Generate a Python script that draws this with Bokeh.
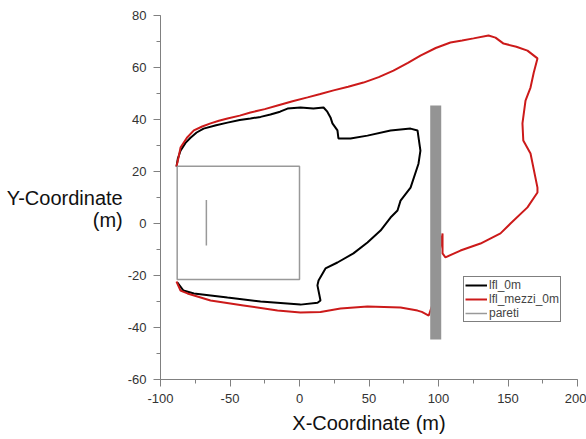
from bokeh.plotting import figure
from bokeh.models import Range1d, SingleIntervalTicker, Legend, LegendItem
from bokeh.embed import file_html
from bokeh.resources import INLINE

# ---- data ----
lfl_0m_x = [-88.5, -87.5, -85.6, -82, -78.4, -74, -69, -60, -51.8, -43, -35.3, -28, -20.9, -14, -8.6,
            0.7, 10, 17.3, 20, 22.3, 23.7, 27.3, 28, 36.7, 48.9, 65.5, 79.9, 84.9, 87, 85.6, 79.9,
            72.7, 70.5, 65.5, 58.3, 48.9, 38.8, 27.3, 18.7, 13.7, 12.9, 15.1, 13, 0.7, -28, -51.8,
            -76, -83.5, -87.8]
lfl_0m_y = [21.9, 25, 28, 31, 33, 35, 36.5, 37.8, 38.8, 39.8, 40.4, 41, 41.9, 43, 44.2,
            44.6, 44.2, 44.6, 43, 40.8, 38.5, 35.8, 32.7, 32.7, 33.8, 35.8, 36.5, 35.8, 28, 23, 13.8,
            8.8, 5, 2.3, -2.7, -7.3, -11.5, -15, -17.3, -21.9, -23.8, -29.6, -30.5, -31.2, -30, -28.5,
            -26.9, -25.8, -22.7]

lfl_mezzi_0m_x = [-88.5, -87, -85.6, -81, -76, -70, -64, -58, -51.8, -43, -35.3, -25, -15.8, -5, 5.8,
                  15, 24.5, 35, 46, 57, 67.6, 78, 87, 98, 108.6, 117, 125.2, 136, 141, 146.8, 156,
                  164, 171.2, 168.5, 166.2, 162.6, 160.4, 161, 166.2, 171.2, 171.2, 164, 151.8, 144.6,
                  130.2, 115.8, 105, 102.9, 102.9, 98, 95.5, 94.5, 93, 88, 84.9, 72.7, 48.9, 29.5,
                  15.1, 0.7, -15.8, -40.3, -64, -80.6, -85.6, -88.5]
lfl_mezzi_0m_y = [21.9, 25.5, 29.2, 33, 35.8, 37.3, 38.5, 39.5, 40.4, 41.5, 42.7, 44, 45.4, 47, 48.5,
                  49.8, 51.2, 52.6, 54.2, 56.3, 58.8, 61.8, 64.6, 67.5, 69.6, 70.4, 71.2, 72.3, 71.5,
                  69.2, 68, 66.5, 63.5, 58, 52.3, 47.3, 38.5, 31.9, 26.9, 13.8, 11.9, 6.2, 0, -3.8,
                  -7.7, -10.4, -13, -11.5, -3.8, -20, -31.5, -33, -35.4, -34, -33.5, -32.3, -31.9,
                  -32.7, -34, -34.2, -33.5, -31.5, -29.6, -26.9, -25.8, -22.3]

# walls (pareti)
pareti_xs = [[-88, 0, 0, -88, -88], [-67, -67]]
pareti_ys = [[22, 22, -21.5, -21.5, 22], [9, -8.5]]
muro_x = [98, 98]
muro_y = [-44.6, 45.4]

x_ticks = [-100, -50, 0, 50, 100, 150, 200]
x_tick_labels = ["-100", "-50", "0", "50", "100", "150", "200"]
y_ticks = [-60, -40, -20, 0, 20, 40, 60, 80]
y_tick_labels = ["-60", "-40", "-20", "0", "20", "40", "60", "80"]

p = figure(width=586, height=439, output_backend="svg", toolbar_location=None,
           x_range=Range1d(-100, 200), y_range=Range1d(-60, 80),
           min_border_left=160, min_border_right=9, min_border_top=15, min_border_bottom=60)
p.outline_line_color = None
p.xgrid.visible = False
p.ygrid.visible = False
p.background_fill_color = "white"
p.border_fill_color = "white"

r0 = p.line(lfl_0m_x, lfl_0m_y, line_color="black", line_width=2)
r1 = p.line(lfl_mezzi_0m_x, lfl_mezzi_0m_y, line_color="#cc1a1a", line_width=2)
r2 = p.multi_line(pareti_xs, pareti_ys, line_color="#999999", line_width=1.5)
p.line(muro_x, muro_y, line_color="#949494", line_width=11, line_cap="butt")

p.xaxis.ticker = SingleIntervalTicker(interval=50, num_minor_ticks=2)
p.yaxis.ticker = SingleIntervalTicker(interval=20, num_minor_ticks=2)
p.xaxis.major_label_overrides = dict(zip(x_ticks, x_tick_labels))
p.yaxis.major_label_overrides = dict(zip(y_ticks, y_tick_labels))
for ax in (p.xaxis[0], p.yaxis[0]):
    ax.axis_line_color = "#808080"
    ax.major_tick_line_color = "#808080"
    ax.minor_tick_line_color = "#808080"
    ax.major_tick_out = 7
    ax.major_tick_in = 0
    ax.minor_tick_out = 4
    ax.minor_tick_in = 0
    ax.major_label_text_font = "Liberation Sans"
    ax.major_label_text_font_size = "13px"
    ax.major_label_text_color = "#333333"
    ax.major_label_standoff = 7
    ax.axis_label_text_font = "Liberation Sans"
    ax.axis_label_text_font_size = "20px"
    ax.axis_label_text_font_style = "normal"
    ax.axis_label_text_color = "#111111"

p.xaxis.axis_label = "X-Coordinate (m)"
p.xaxis.axis_label_standoff = 6

yax = p.yaxis[0]
yax.axis_label = "\nY-Coordinate\n(m)"
yax.axis_label_standoff = 2
yax.axis_label_text_align = "right"
yax.axis_label_text_line_height = 1.0
if "axis_label_orientation" in yax.properties():
    yax.axis_label_orientation = "horizontal"

legend = Legend(items=[LegendItem(label="lfl_0m", renderers=[r0]),
                       LegendItem(label="lfl_mezzi_0m", renderers=[r1]),
                       LegendItem(label="pareti", renderers=[r2])],
                location=(303, 57), orientation="vertical",
                label_text_font="Liberation Sans", label_text_font_size="12px",
                label_height=12, glyph_height=12, glyph_width=22, label_standoff=2,
                padding=1, spacing=0, margin=0,
                border_line_color="black", border_line_width=1,
                background_fill_color="white", background_fill_alpha=1.0)
p.add_layout(legend)

open("out.html", "w").write(file_html(p, INLINE))
